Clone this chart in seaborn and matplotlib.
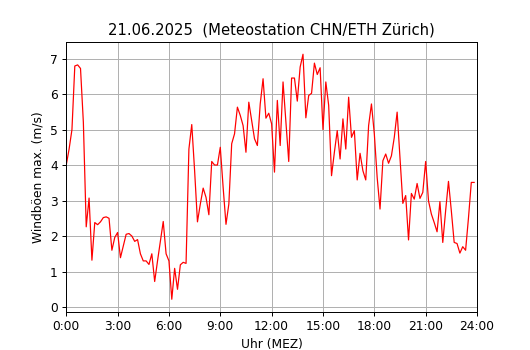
import numpy as np
import pandas as pd
import matplotlib
matplotlib.use("Agg")
import matplotlib.pyplot as plt
from matplotlib.ticker import FuncFormatter, MultipleLocator
import seaborn as sns

# Windböen-Maxima (m/s), 10-Minuten-Werte ab 0:00
boeen = [
    4.00, 4.45, 5.00, 6.79, 6.82, 6.72, 5.20, 2.26, 3.07, 1.32, 2.38, 2.32,
    2.40, 2.52, 2.54, 2.50, 1.60, 1.96, 2.10, 1.39, 1.72, 2.05, 2.07, 2.00,
    1.85, 1.90, 1.50, 1.30, 1.30, 1.20, 1.50, 0.72, 1.30, 1.85, 2.41, 1.50,
    1.30, 0.22, 1.09, 0.50, 1.19, 1.26, 1.23, 4.45, 5.14, 3.84, 2.40, 2.90,
    3.35, 3.09, 2.60, 4.10, 4.00, 4.00, 4.50, 3.37, 2.33, 2.90, 4.60, 4.88,
    5.63, 5.40, 5.11, 4.36, 5.77, 5.25, 4.74, 4.55, 5.72, 6.43, 5.32, 5.46,
    5.16, 3.80, 5.82, 4.55, 6.34, 5.20, 4.10, 6.45, 6.45, 5.80, 6.76, 7.12,
    5.33, 5.96, 6.02, 6.87, 6.55, 6.74, 5.00, 6.34, 5.68, 3.70, 4.36, 4.97,
    4.17, 5.30, 4.45, 5.91, 4.78, 4.97, 3.58, 4.33, 3.84, 3.58, 5.11, 5.72,
    4.88, 3.65, 2.76, 4.12, 4.31, 4.05, 4.26, 4.78, 5.49, 4.22, 2.92, 3.14,
    1.89, 3.20, 3.04, 3.48, 3.06, 3.23, 4.10, 2.99, 2.62, 2.38, 2.12, 2.97,
    1.82, 2.71, 3.54, 2.71, 1.82, 1.79, 1.52, 1.70, 1.60, 2.50, 3.51, 3.51,
]
stunden = np.arange(len(boeen)) * 10 / 60

df = pd.DataFrame({"stunde": stunden, "boeen": boeen})

# 6 Zoll breit, auf 530 px skaliert
dpi = 530 / 6
fig, ax = plt.subplots(figsize=(6, 350 / dpi), dpi=dpi)
sns.lineplot(data=df, x="stunde", y="boeen", color="red", linewidth=1, ax=ax)

ax.set_xlim(0, 24)
ax.xaxis.set_major_locator(MultipleLocator(3))
ax.xaxis.set_major_formatter(FuncFormatter(lambda v, p: f"{int(v)}:00"))
ax.grid(True, color="#b0b0b0")
ax.set_title("21.06.2025  (Meteostation CHN/ETH Zürich)")
ax.set_xlabel("Uhr (MEZ)")
ax.set_ylabel("Windböen max. (m/s)")

plt.savefig("out.png", dpi=dpi)
